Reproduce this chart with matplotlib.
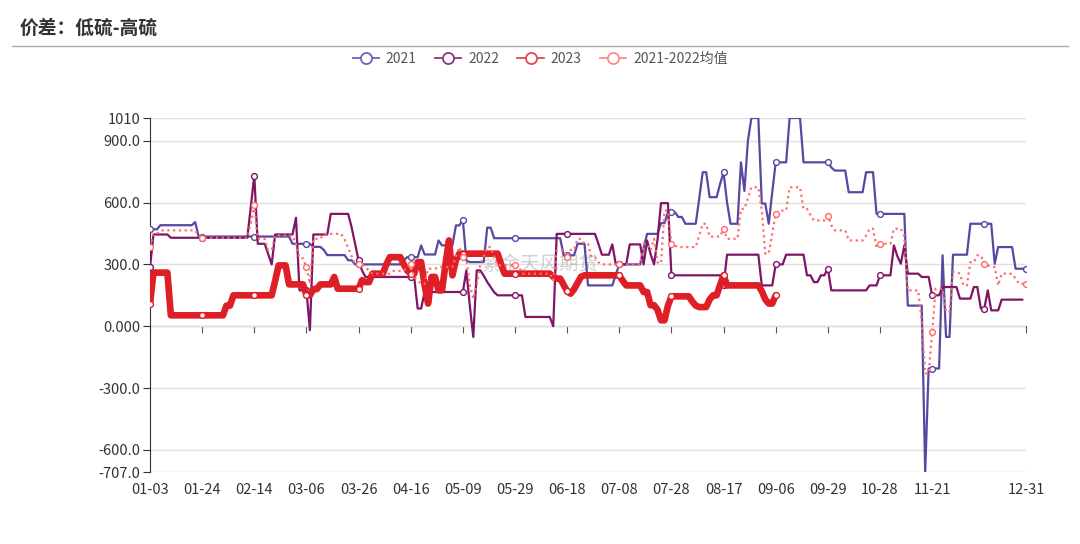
import numpy as np
import matplotlib
matplotlib.use("Agg")
import matplotlib.pyplot as plt
from matplotlib.lines import Line2D

plt.rcParams['font.family'] = ['Noto Sans CJK SC', 'DejaVu Sans']

# category axis: 253 trading days, a label every 15 days plus the last one
n_days = 253
date_labels = ['01-03', '01-24', '02-14', '03-06', '03-26', '04-16', '05-09', '05-29',
               '06-18', '07-08', '07-28', '08-17', '09-06', '09-29', '10-28', '11-21', '12-31']
label_idx = list(range(0, 226, 15)) + [n_days - 1]

# series as (value, number of days) runs
runs_2021 = [(470, 3), (490, 10), (505, 1), (435, 27), (400, 6), (385, 3), (370, 1), (345, 6),
             (320, 2), (300, 14), (320, 1), (335, 4), (392, 1), (348, 4), (416, 1), (392, 4),
             (489, 2), (516, 1), (319, 1), (311, 5), (478, 2), (427, 20), (344, 4), (400, 3),
             (198, 8), (250, 1), (300, 7), (380, 1), (448, 4), (500, 2), (553, 3), (530, 2),
             (497, 4), (620, 1), (747, 2), (626, 3), (690, 1), (747, 1), (600, 1), (497, 3),
             (795, 1), (656, 1), (900, 1), (1010, 3), (595, 2), (497, 1), (650, 1), (795, 4),
             (1010, 4), (795, 8), (770, 1), (755, 4), (650, 5), (747, 3), (545, 9), (100, 5),
             (-707, 1), (-205, 4), (344, 1), (-52, 2), (347, 5), (497, 7), (303, 1), (384, 5),
             (279, 4)]

runs_2022 = [(285, 1), (445, 5), (429, 23), (580, 1), (731, 1), (400, 3), (350, 1), (300, 1),
             (445, 6), (526, 1), (174, 3), (-19, 1), (445, 5), (545, 6), (480, 1), (400, 1),
             (320, 1), (270, 1), (239, 15), (86, 2), (166, 12), (271, 1), (100, 1), (-52, 1),
             (271, 2), (245, 1), (215, 1), (190, 1), (165, 1), (150, 8), (45, 8), (0, 1),
             (448, 12), (400, 1), (347, 3), (397, 1), (300, 4), (397, 4), (300, 1), (416, 1),
             (350, 1), (300, 1), (420, 1), (597, 3), (247, 15), (198, 1), (347, 10), (198, 4),
             (300, 3), (347, 6), (247, 2), (214, 2), (247, 2), (279, 1), (174, 11), (198, 3),
             (247, 4), (392, 1), (340, 1), (303, 1), (392, 1), (255, 4), (239, 3), (150, 3),
             (190, 5), (134, 4), (190, 2), (86, 2), (174, 1), (77, 3), (129, 7)]

runs_2023 = [(110, 1), (260, 5), (53, 16), (100, 2), (150, 12), (220, 1), (295, 3), (203, 5),
             (150, 2), (180, 2), (203, 4), (239, 1), (182, 7), (223, 1), (214, 2), (255, 4),
             (300, 1), (335, 4), (300, 1), (270, 1), (255, 2), (311, 2), (200, 1), (110, 1),
             (239, 2), (174, 2), (300, 1), (416, 1), (247, 1), (320, 1), (352, 12), (300, 1),
             (255, 14), (240, 1), (231, 2), (200, 1), (170, 1), (158, 1), (180, 1), (210, 1),
             (240, 1), (247, 11), (220, 1), (198, 5), (166, 2), (102, 2), (80, 1), (29, 2),
             (100, 1), (145, 6), (120, 1), (100, 1), (93, 3), (130, 1), (150, 2), (200, 1),
             (247, 1), (198, 10), (170, 1), (130, 1), (110, 2), (150, 1)]

runs_avg = [(384, 1), (448, 2), (465, 11), (440, 1), (429, 14), (500, 1), (586, 1), (424, 3),
            (368, 2), (440, 6), (400, 1), (330, 2), (287, 1), (206, 1), (424, 3), (448, 6),
            (420, 1), (380, 1), (340, 1), (300, 3), (287, 1), (270, 1), (255, 6), (268, 4),
            (290, 1), (300, 1), (239, 1), (220, 1), (206, 2), (279, 3), (287, 5), (340, 1),
            (384, 1), (335, 2), (200, 1), (134, 1), (200, 1), (300, 1), (340, 1), (384, 2),
            (340, 1), (295, 7), (255, 9), (223, 1), (368, 3), (335, 1), (370, 2), (424, 2),
            (400, 2), (335, 2), (310, 1), (300, 12), (400, 2), (368, 1), (424, 1), (310, 1),
            (305, 1), (561, 2), (400, 1), (390, 1), (384, 6), (440, 1), (497, 2), (435, 4),
            (473, 1), (424, 4), (569, 2), (620, 1), (674, 3), (561, 1), (352, 2), (450, 1),
            (545, 1), (561, 3), (674, 4), (569, 2), (540, 1), (513, 4), (537, 1), (490, 1),
            (465, 4), (416, 5), (440, 1), (473, 2), (384, 1), (400, 4), (473, 3), (435, 1),
            (174, 4), (20, 1), (-229, 2), (-27, 1), (182, 3), (69, 2), (263, 2), (255, 1),
            (198, 2), (311, 2), (344, 2), (300, 1), (295, 1), (287, 2), (198, 1), (255, 4),
            (230, 1), (206, 3)]

y_ticks = [1010, 900, 600, 300, 0, -300, -600, -707]
y_tick_labels = ['1010', '900.0', '600.0', '300.0', '0.000', '-300.0', '-600.0', '-707.0']

series_names = ['2021', '2022', '2023', '2021-2022均值']
colors = ['#5848A2', '#7E1566', '#DE1F26', '#FF6B6B']


def expand(runs):
    vals = []
    for v, c in runs:
        vals += [v] * c
    vals += [np.nan] * (n_days - len(vals))
    return np.array(vals, dtype=float)


x = np.arange(n_days)
data = [expand(r) for r in (runs_2021, runs_2022, runs_2023, runs_avg)]
marks = list(range(0, n_days, 15)) + [n_days - 1]

fig = plt.figure(figsize=(10.8, 5.44), dpi=100)
ax = fig.add_axes([150 / 1080, 1 - 472 / 544, 876 / 1080, 354 / 544])

styles = [dict(lw=1.6, ls='-'), dict(lw=1.6, ls='-'), dict(lw=4.8, ls='-'),
          dict(lw=1.6, ls=(0, (1, 1.6)))]
for i, (y, c, st) in enumerate(zip(data, colors, styles)):
    ax.plot(x, y, color=c, lw=st['lw'], ls=st['ls'], zorder=3 + i,
            solid_joinstyle='round', solid_capstyle='round',
            marker='o', markevery=[m for m in marks if not np.isnan(y[m])],
            markersize=4.2, markerfacecolor='white', markeredgecolor=c, markeredgewidth=1.0)

ax.set_xlim(0, n_days - 1)
ax.set_ylim(-707, 1010)
ax.set_yticks(y_ticks)
ax.set_yticklabels(y_tick_labels)
ax.grid(axis='y', color='#E0E0E0', lw=1)
ax.set_axisbelow(True)
for s in ['top', 'right', 'bottom']:
    ax.spines[s].set_visible(False)
ax.spines['left'].set_color('#333333')
ax.tick_params(axis='y', length=5, color='#333333', labelsize=10.5, labelcolor='#333333', pad=2)
ax.set_xticks(label_idx)
ax.set_xticklabels(date_labels)
ax.tick_params(axis='x', length=0, labelsize=10.5, labelcolor='#333333', pad=8)

# axis line drawn at zero with downward ticks
zero_loc = (0 - ax.get_ylim()[0]) / (ax.get_ylim()[1] - ax.get_ylim()[0])
sec = ax.secondary_xaxis(zero_loc)
sec.set_xticks(list(range(0, 211, 15)) + [n_days - 1])
sec.set_xticklabels([])
sec.spines['bottom'].set_color('#555555')
sec.tick_params(axis='x', length=5, color='#555555', direction='out')

# watermark
ax.text(0.445, 0.585, '紫金天风期货', transform=ax.transAxes, fontsize=14, color='#999999',
        alpha=0.45, ha='center', va='center', zorder=2)

# title and separator
fig.text(20 / 1080, 1 - 28 / 544, '价差：低硫-高硫', fontsize=13.5, fontweight='bold',
         color='#333333', ha='left', va='center')
fig.add_artist(Line2D([12 / 1080, 1068 / 1080], [1 - 46 / 544, 1 - 46 / 544],
                      color='#AAAAAA', lw=1, transform=fig.transFigure))

handles = [Line2D([0], [0], color=c, lw=1.3, ls='-', marker='o', markersize=8,
                  markerfacecolor='white', markeredgecolor=c, markeredgewidth=1.3)
           for c in ['#6F63BE', '#93347F', '#E5484D', '#FF8A8A']]
leg = fig.legend(handles, series_names, loc='center', bbox_to_anchor=(0.5, 1 - 59 / 544),
                 ncol=4, frameon=False, fontsize=10, handlelength=1.9, handletextpad=0.5,
                 columnspacing=1.3)
for t in leg.get_texts():
    t.set_color('#555555')

fig.savefig('out.png', dpi=100)
